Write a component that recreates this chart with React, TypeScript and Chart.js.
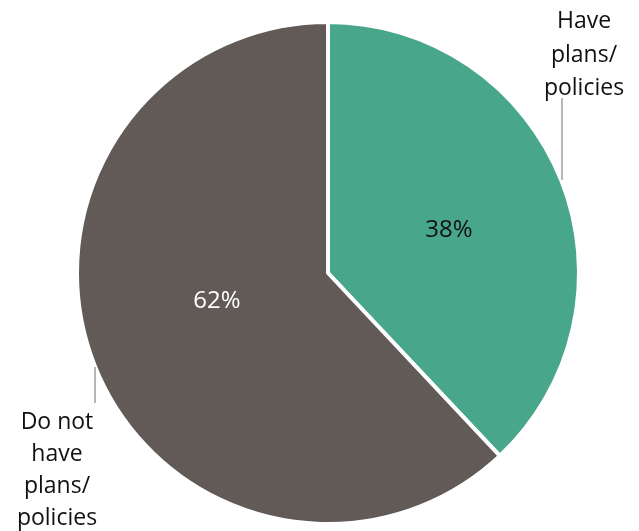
import React, { useEffect, useRef } from "react";
import { Chart, registerables } from "chart.js";

Chart.register(...registerables);

const categories: string[] = ["Have plans/ policies", "Do not have plans/ policies"];
const values: number[] = [38, 62];
const colors: string[] = ["#48A68A", "#615A57"];
const percentLabels: string[] = ["38%", "62%"];
const labelColors: string[] = ["#111111", "#FFFFFF"];
const topRightLines: string[] = ["Have", "plans/", "policies"];
const bottomLeftLines: string[] = ["Do not", "have", "plans/", "policies"];

// label placement relative to the pie centre (pixels)
const pctOffsets: [number, number][] = [
  [121, -36],
  [-111, 35],
];

const labelPlugin = {
  id: "customLabels",
  afterDatasetsDraw(chart: any) {
    const ctx = chart.ctx as CanvasRenderingContext2D;
    const meta = chart.getDatasetMeta(0);
    const a0 = meta.data[0].getProps(["x", "y", "outerRadius"], true);
    const cx = a0.x;
    const cy = a0.y;
    ctx.save();
    ctx.textAlign = "center";
    ctx.textBaseline = "alphabetic";
    ctx.font = "24px 'Open Sans', sans-serif";
    percentLabels.forEach((t, i) => {
      ctx.fillStyle = labelColors[i];
      ctx.fillText(t, cx + pctOffsets[i][0], cy + pctOffsets[i][1]);
    });

    ctx.strokeStyle = "#9E9E9E";
    ctx.lineWidth = 1.5;
    ctx.beginPath();
    ctx.moveTo(cx + 234, cy - 175);
    ctx.lineTo(cx + 234, cy - 93);
    ctx.stroke();
    ctx.beginPath();
    ctx.moveTo(cx - 233, cy + 94);
    ctx.lineTo(cx - 233, cy + 130);
    ctx.stroke();

    ctx.fillStyle = "#111111";
    ctx.font = "23px 'Open Sans', sans-serif";
    topRightLines.forEach((t, k) => ctx.fillText(t, cx + 256, cy - 245 + k * 33.5));
    bottomLeftLines.forEach((t, k) => ctx.fillText(t, cx - 271, cy + 156 + k * 32));
    ctx.restore();
  },
};

export default function App() {
  const canvasRef = useRef<HTMLCanvasElement | null>(null);
  useEffect(() => {
    const canvas = canvasRef.current;
    if (!canvas) return;
    const chart = new Chart(canvas, {
      type: "pie",
      data: {
        labels: categories,
        datasets: [
          {
            data: values,
            backgroundColor: colors,
            borderColor: "#FFFFFF",
            borderWidth: 4,
            hoverOffset: 0,
          },
        ],
      },
      options: {
        animation: false,
        responsive: false,
        maintainAspectRatio: false,
        layout: { padding: { left: 75, right: 58, top: 20, bottom: 5 } },
        plugins: {
          legend: { display: false },
          tooltip: { enabled: false },
        },
      },
      plugins: [labelPlugin],
    });
    return () => chart.destroy();
  }, []);
  return (
    <div style={{ position: "fixed", left: 0, top: 0, width: 639, height: 531, background: "#fff" }}>
      <canvas ref={canvasRef} width={639} height={531} style={{ width: 639, height: 531, display: "block" }} />
    </div>
  );
}
